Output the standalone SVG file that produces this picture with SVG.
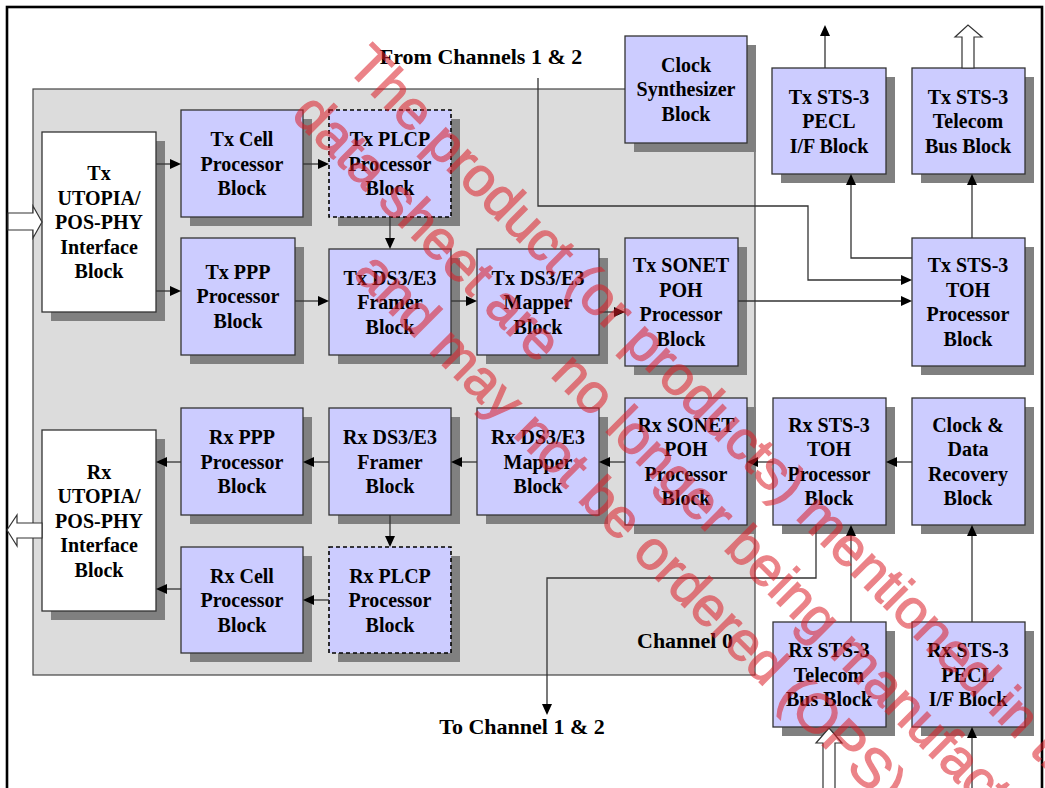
<svg xmlns="http://www.w3.org/2000/svg" width="1045" height="788" viewBox="0 0 1045 788">
<style>
.sh{fill:#808080}
.bx{fill:#ccccff;stroke:#333;stroke-width:1.3}
.wb{fill:#ffffff;stroke:#333;stroke-width:1.3}
.db{fill:#ccccff;stroke:#000;stroke-width:1.6;stroke-dasharray:4 3}
.t{font-family:"Liberation Serif","Times New Roman",serif;font-weight:bold;font-size:20px;fill:#000;text-anchor:middle}
.lb{font-family:"Liberation Serif","Times New Roman",serif;font-weight:bold;font-size:22px;fill:#000;text-anchor:middle}
.c{fill:none;stroke:#333;stroke-width:1.3}
.ho{fill:#fff;stroke:#333;stroke-width:1.2}
.wm{font-family:"Liberation Sans",Arial,sans-serif;font-size:55px;fill:#dc1e28;stroke:#dc1e28;stroke-width:1.3;opacity:0.55}
</style>
<defs>
<path id="ah" d="M0,0 L-11,-5 L-11,5 z" fill="#000"/>
</defs>
<rect x="0" y="0" width="1045" height="788" fill="#fff"/>
<rect x="7" y="7" width="1035" height="800" fill="#fff" stroke="#000" stroke-width="2.6"/>
<g id="channel0">
<rect x="33" y="89" width="722" height="586" fill="#dcdcdc" stroke="#444" stroke-width="1.2"/>
<text class="lb" x="685" y="648">Channel 0</text>
</g>
<g id="labels">
<text class="lb" x="481" y="64">From Channels 1 &amp; 2</text>
<text class="lb" x="522" y="734">To Channel 1 &amp; 2</text>
</g>
<g id="tx-utopia"><rect class="sh" x="51" y="141" width="114" height="180"/><rect class="wb" x="42" y="132" width="114" height="180"/>
<text class="t" x="99" y="180">Tx</text><text class="t" x="99" y="205">UTOPIA/</text><text class="t" x="99" y="229">POS-PHY</text><text class="t" x="99" y="254">Interface</text><text class="t" x="99" y="278">Block</text></g>
<g id="tx-cell"><rect class="sh" x="190" y="119" width="122" height="107"/><rect class="bx" x="181" y="110" width="122" height="107"/>
<text class="t" x="242" y="146">Tx Cell</text><text class="t" x="242" y="171">Processor</text><text class="t" x="242" y="195">Block</text></g>
<g id="tx-plcp"><rect class="sh" x="338" y="119" width="122" height="107"/><rect class="db" x="329" y="110" width="122" height="107"/>
<text class="t" x="390" y="146">Tx PLCP</text><text class="t" x="390" y="171">Processor</text><text class="t" x="390" y="195">Block</text></g>
<g id="clock-synth"><rect class="sh" x="634" y="45" width="122" height="107"/><rect class="bx" x="625" y="36" width="122" height="107"/>
<text class="t" x="686" y="72">Clock</text><text class="t" x="686" y="96">Synthesizer</text><text class="t" x="686" y="121">Block</text></g>
<g id="tx-ppp"><rect class="sh" x="190" y="247" width="114" height="117"/><rect class="bx" x="181" y="238" width="114" height="117"/>
<text class="t" x="238" y="279">Tx PPP</text><text class="t" x="238" y="303">Processor</text><text class="t" x="238" y="328">Block</text></g>
<g id="tx-framer"><rect class="sh" x="338" y="258" width="122" height="106"/><rect class="bx" x="329" y="249" width="122" height="106"/>
<text class="t" x="390" y="285">Tx DS3/E3</text><text class="t" x="390" y="309">Framer</text><text class="t" x="390" y="334">Block</text></g>
<g id="tx-mapper"><rect class="sh" x="486" y="258" width="122" height="106"/><rect class="bx" x="477" y="249" width="122" height="106"/>
<text class="t" x="538" y="285">Tx DS3/E3</text><text class="t" x="538" y="309">Mapper</text><text class="t" x="538" y="334">Block</text></g>
<g id="tx-sonet"><rect class="sh" x="634" y="247" width="113" height="128"/><rect class="bx" x="625" y="238" width="113" height="128"/>
<text class="t" x="681" y="272">Tx SONET</text><text class="t" x="681" y="297">POH</text><text class="t" x="681" y="321">Processor</text><text class="t" x="681" y="346">Block</text></g>
<g id="tx-pecl"><rect class="sh" x="781" y="77" width="114" height="106"/><rect class="bx" x="772" y="68" width="114" height="106"/>
<text class="t" x="829" y="104">Tx STS-3</text><text class="t" x="829" y="128">PECL</text><text class="t" x="829" y="153">I/F Block</text></g>
<g id="tx-telecom"><rect class="sh" x="921" y="77" width="113" height="106"/><rect class="bx" x="912" y="68" width="113" height="106"/>
<text class="t" x="968" y="104">Tx STS-3</text><text class="t" x="968" y="128">Telecom</text><text class="t" x="968" y="153">Bus Block</text></g>
<g id="tx-toh"><rect class="sh" x="921" y="247" width="113" height="128"/><rect class="bx" x="912" y="238" width="113" height="128"/>
<text class="t" x="968" y="272">Tx STS-3</text><text class="t" x="968" y="297">TOH</text><text class="t" x="968" y="321">Processor</text><text class="t" x="968" y="346">Block</text></g>
<g id="rx-utopia"><rect class="sh" x="51" y="439" width="114" height="181"/><rect class="wb" x="42" y="430" width="114" height="181"/>
<text class="t" x="99" y="479">Rx</text><text class="t" x="99" y="503">UTOPIA/</text><text class="t" x="99" y="528">POS-PHY</text><text class="t" x="99" y="552">Interface</text><text class="t" x="99" y="577">Block</text></g>
<g id="rx-ppp"><rect class="sh" x="190" y="417" width="122" height="107"/><rect class="bx" x="181" y="408" width="122" height="107"/>
<text class="t" x="242" y="444">Rx PPP</text><text class="t" x="242" y="469">Processor</text><text class="t" x="242" y="493">Block</text></g>
<g id="rx-framer"><rect class="sh" x="338" y="417" width="122" height="107"/><rect class="bx" x="329" y="408" width="122" height="107"/>
<text class="t" x="390" y="444">Rx DS3/E3</text><text class="t" x="390" y="469">Framer</text><text class="t" x="390" y="493">Block</text></g>
<g id="rx-mapper"><rect class="sh" x="486" y="417" width="122" height="107"/><rect class="bx" x="477" y="408" width="122" height="107"/>
<text class="t" x="538" y="444">Rx DS3/E3</text><text class="t" x="538" y="469">Mapper</text><text class="t" x="538" y="493">Block</text></g>
<g id="rx-sonet"><rect class="sh" x="634" y="407" width="122" height="127"/><rect class="bx" x="625" y="398" width="122" height="127"/>
<text class="t" x="686" y="432">Rx SONET</text><text class="t" x="686" y="456">POH</text><text class="t" x="686" y="481">Processor</text><text class="t" x="686" y="505">Block</text></g>
<g id="rx-cell"><rect class="sh" x="190" y="556" width="122" height="106"/><rect class="bx" x="181" y="547" width="122" height="106"/>
<text class="t" x="242" y="583">Rx Cell</text><text class="t" x="242" y="607">Processor</text><text class="t" x="242" y="632">Block</text></g>
<g id="rx-plcp"><rect class="sh" x="338" y="556" width="122" height="106"/><rect class="db" x="329" y="547" width="122" height="106"/>
<text class="t" x="390" y="583">Rx PLCP</text><text class="t" x="390" y="607">Processor</text><text class="t" x="390" y="632">Block</text></g>
<g id="rx-toh"><rect class="sh" x="782" y="407" width="113" height="127"/><rect class="bx" x="773" y="398" width="113" height="127"/>
<text class="t" x="829" y="432">Rx STS-3</text><text class="t" x="829" y="456">TOH</text><text class="t" x="829" y="481">Processor</text><text class="t" x="829" y="505">Block</text></g>
<g id="cdr"><rect class="sh" x="921" y="407" width="113" height="127"/><rect class="bx" x="912" y="398" width="113" height="127"/>
<text class="t" x="968" y="432">Clock &amp;</text><text class="t" x="968" y="456">Data</text><text class="t" x="968" y="481">Recovery</text><text class="t" x="968" y="505">Block</text></g>
<g id="rx-telecom"><rect class="sh" x="782" y="631" width="113" height="105"/><rect class="bx" x="773" y="622" width="113" height="105"/>
<text class="t" x="829" y="657">Rx STS-3</text><text class="t" x="829" y="682">Telecom</text><text class="t" x="829" y="706">Bus Block</text></g>
<g id="rx-pecl"><rect class="sh" x="921" y="631" width="113" height="105"/><rect class="bx" x="912" y="622" width="113" height="105"/>
<text class="t" x="968" y="657">Rx STS-3</text><text class="t" x="968" y="682">PECL</text><text class="t" x="968" y="706">I/F Block</text></g>
<g id="connectors">
<path class="c" d="M156,164 H175"/>
<path class="c" d="M303,164 H323"/>
<path class="c" d="M156,291 H175"/>
<path class="c" d="M390,217 V243"/>
<path class="c" d="M295,301 H323"/>
<path class="c" d="M451,301 H471"/>
<path class="c" d="M599,312 H619"/>
<path class="c" d="M738,301 H906"/>
<path class="c" d="M538,78 V206 H808 V280 H906"/>
<path class="c" d="M912,258 H851 V180"/>
<path class="c" d="M972,238 V180"/>
<path class="c" d="M825,68 V31"/>
<path class="c" d="M181,462 H162"/>
<path class="c" d="M181,589 H162"/>
<path class="c" d="M329,462 H309"/>
<path class="c" d="M477,462 H457"/>
<path class="c" d="M625,462 H605"/>
<path class="c" d="M773,462 H753"/>
<path class="c" d="M912,462 H892"/>
<path class="c" d="M390,515 V541"/>
<path class="c" d="M329,600 H309"/>
<path class="c" d="M816,525 V578 H547 V709"/>
<path class="c" d="M851,622 V531"/>
<path class="c" d="M972,622 V531"/>
<path class="c" d="M972,790 V733"/>
<use href="#ah" transform="translate(181,164)"/>
<use href="#ah" transform="translate(329,164)"/>
<use href="#ah" transform="translate(181,291)"/>
<use href="#ah" transform="translate(329,301)"/>
<use href="#ah" transform="translate(477,301)"/>
<use href="#ah" transform="translate(625,312)"/>
<use href="#ah" transform="translate(912,301)"/>
<use href="#ah" transform="translate(912,280)"/>
<use href="#ah" transform="translate(390,249) rotate(90)"/>
<use href="#ah" transform="translate(390,547) rotate(90)"/>
<use href="#ah" transform="translate(547,715) rotate(90)"/>
<use href="#ah" transform="translate(851,174) rotate(-90)"/>
<use href="#ah" transform="translate(972,174) rotate(-90)"/>
<use href="#ah" transform="translate(825,25) rotate(-90)"/>
<use href="#ah" transform="translate(851,525) rotate(-90)"/>
<use href="#ah" transform="translate(972,525) rotate(-90)"/>
<use href="#ah" transform="translate(972,727) rotate(-90)"/>
<use href="#ah" transform="translate(156,462) rotate(180)"/>
<use href="#ah" transform="translate(156,589) rotate(180)"/>
<use href="#ah" transform="translate(303,462) rotate(180)"/>
<use href="#ah" transform="translate(451,462) rotate(180)"/>
<use href="#ah" transform="translate(599,462) rotate(180)"/>
<use href="#ah" transform="translate(747,462) rotate(180)"/>
<use href="#ah" transform="translate(886,462) rotate(180)"/>
<use href="#ah" transform="translate(303,600) rotate(180)"/>
<polygon class="ho" points="8,213 33,213 33,206 42,222 33,238 33,230 8,230"/>
<polygon class="ho" points="42,523 17,523 17,515 7,530 17,546 17,538 42,538"/>
<polygon class="ho" points="962,68 962,37 955,37 968,25 982,37 974,37 974,68"/>
<polygon class="ho" points="823,790 823,743 816,743 829,728 842,743 835,743 835,790"/>
</g>
<g id="watermark">
<text class="wm" transform="translate(345,68) rotate(45)">The product (or products) mentioned in this</text>
<text class="wm" transform="translate(290,116) rotate(45)">data sheet are no longer being manufactured</text>
<text class="wm" transform="translate(352,275) rotate(45)">and may not be ordered (OPS)</text>
</g>
</svg>
